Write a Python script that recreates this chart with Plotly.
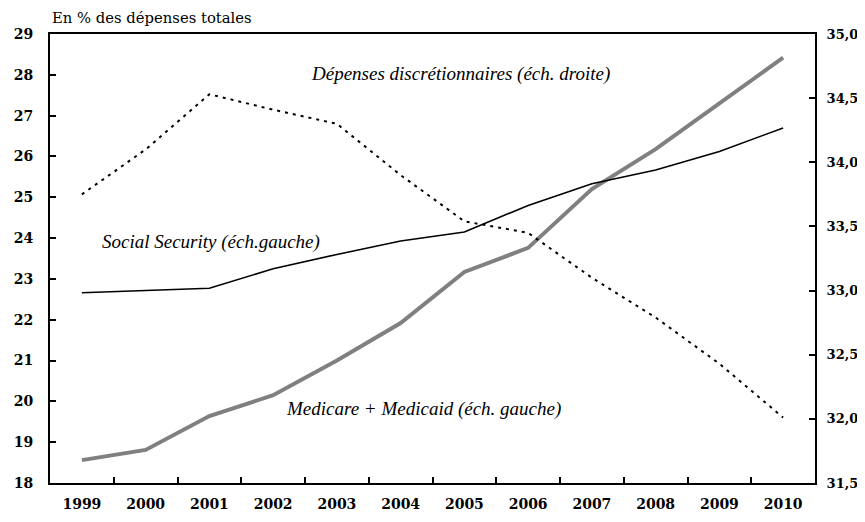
import plotly.graph_objects as go

years = ["1999", "2000", "2001", "2002", "2003", "2004", "2005", "2006", "2007", "2008", "2009", "2010"]
medicare = [18.56, 18.81, 19.64, 20.15, 21.0, 21.92, 23.17, 23.76, 25.2, 26.18, 27.3, 28.42]
social_security = [22.66, 22.71, 22.77, 23.25, 23.6, 23.93, 24.15, 24.8, 25.33, 25.67, 26.12, 26.70]
discretionnaires = [33.75, 34.10, 34.53, 34.41, 34.30, 33.90, 33.54, 33.45, 33.10, 32.79, 32.43, 32.01]

left_ticks = list(range(18, 30))
right_ticks = [31.5, 32.0, 32.5, 33.0, 33.5, 34.0, 34.5, 35.0]

fig = go.Figure()
fig.add_trace(go.Scatter(x=years, y=medicare, mode="lines",
                         line=dict(color="#808080", width=4), yaxis="y"))
fig.add_trace(go.Scatter(x=years, y=social_security, mode="lines",
                         line=dict(color="black", width=1.6), yaxis="y"))
fig.add_trace(go.Scatter(x=years, y=discretionnaires, mode="lines",
                         line=dict(color="black", width=2, dash="3px,5px"), yaxis="y2"))

tickfont = dict(family="DejaVu Serif", size=14, color="black", weight="bold")
tickfont_r = dict(family="DejaVu Serif", size=13, color="black", weight="bold")
italic = dict(family="Liberation Serif", size=19, color="black", style="italic")

# page has an 8px body margin: figure drawn at (8, 8)
fig.update_layout(
    width=849, height=506,
    margin=dict(l=42, r=42, t=26, b=31),
    paper_bgcolor="white", plot_bgcolor="white",
    showlegend=False,
    separators=", ",
    xaxis=dict(type="category", showline=True, linecolor="black", linewidth=2,
               mirror=True, ticks="inside", ticklen=6, tickwidth=1.5, tickcolor="black",
               tickson="boundaries", showgrid=False, zeroline=False, automargin=False,
               tickfont=tickfont, ticklabelstandoff=7, range=[-0.5, 11.5]),
    yaxis=dict(range=[18, 29], tickvals=left_ticks, showline=True, linecolor="black",
               linewidth=2, ticks="inside", ticklen=6, tickwidth=1.5, tickcolor="black",
               showgrid=False, zeroline=False, tickfont=tickfont, ticklabelstandoff=12,
               automargin=False),
    yaxis2=dict(range=[31.5, 35], tickvals=right_ticks, tickformat=".1f", overlaying="y",
                side="right", showline=True, linecolor="black", linewidth=2,
                ticks="inside", ticklen=6, tickwidth=1.5, tickcolor="black",
                showgrid=False, zeroline=False, tickfont=tickfont_r, ticklabelstandoff=7,
                automargin=False),
    annotations=[
        dict(text="En % des dépenses totales", xref="paper", yref="paper", x=0.0, y=1.0,
             xanchor="left", yanchor="bottom", yshift=6, showarrow=False,
             font=dict(family="DejaVu Serif", size=14.8, color="black")),
        dict(text="Dépenses discrétionnaires (éch. droite)", xref="paper", yref="paper",
             x=(309 - 50) / 765, y=(483 - 74) / 449, xanchor="left", yanchor="middle",
             showarrow=False, font=italic),
        dict(text="Social Security (éch.gauche)", xref="paper", yref="paper",
             x=(100 - 50) / 765, y=(483 - 242) / 449, xanchor="left", yanchor="middle",
             showarrow=False, font=italic),
        dict(text="Medicare + Medicaid (éch. gauche)", xref="paper", yref="paper",
             x=(284 - 50) / 765, y=(483 - 409) / 449, xanchor="left", yanchor="middle",
             showarrow=False, font=italic),
    ],
)

fig.write_html("out.html")
